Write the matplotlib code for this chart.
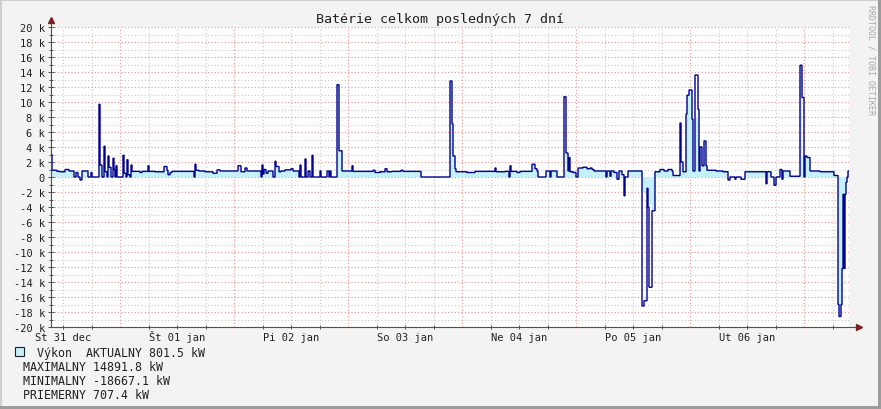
import numpy as np
import matplotlib.pyplot as plt
from matplotlib.patches import Rectangle

W, H = 881, 410
MONO = 'DejaVu Sans Mono'

# rrd samples: 798 consolidated steps over 7 days, start Dec 31 ~09:28
n_samples = 798
t_start = 9.47                 # hours since 31 dec 00:00
t_step = 168 / n_samples

# power (k kW), held from sample index until the next breakpoint
line_idx = [0, 1, 6, 9, 14, 18, 23, 25, 27, 29, 31, 37, 40, 41, 48, 49, 51, 53, 54, 56,
            57, 58, 60, 62, 63, 64, 65, 66, 72, 73, 75, 76, 77, 79, 80, 81, 89, 91, 97, 98,
            104, 113, 116, 117, 119, 121, 143, 144, 145, 148,
            154, 162, 166, 169, 187, 190, 194, 196, 210, 211, 212, 213, 215, 217, 222, 224,
            225, 228, 230, 234, 240, 242, 248, 249, 250, 254, 255, 257, 259, 261, 262, 269,
            270, 276, 278, 279, 280, 286, 288, 291, 301, 302,
            322, 324, 329, 334, 336, 341, 350, 352, 370, 399, 401, 402, 404, 405, 416, 424,
            444, 445, 454, 458, 459, 460, 466, 469, 481, 484, 486, 487, 495, 499, 500, 506,
            513, 515, 517, 518, 519, 522, 525, 527, 532, 536, 539, 541, 543, 555, 556, 559,
            560, 563, 566, 568, 571, 573, 574, 577, 591, 593, 596, 597, 598, 601, 604, 609,
            613, 617, 621, 622, 629, 630, 632, 635, 636, 638, 641, 642, 644, 647, 648, 649,
            651, 653, 655, 656, 665, 672, 677, 679, 684, 685, 690, 694, 715, 716, 720, 723,
            725, 729, 731, 732, 739, 749, 751, 753, 754, 756, 759, 769, 783, 787, 788, 790,
            791, 792, 793, 794, 795, 796, 797]
line_k = [3.0, 0.9, 0.75, 0.7, 1.0, 0.8, 0.0, 0.6, 0.0, -0.4, 0.8, 0.0, 0.6, 0.0, 9.7, 1.6, 0.0, 4.1, 0.7, 0.0,
          2.8, 1.3, 0.0, 2.5, 1.0, 0.0, 1.5, 0.0, 2.9, 0.5, 0.0, 2.3, 0.3, 0.0, 1.6, 0.75, 0.6, 0.75, 1.5, 0.75,
          0.7, 1.4, 0.9, 0.3, 0.6, 0.75, 0.0, 1.7, 0.9, 0.8,
          0.7, 0.5, 0.95, 0.8, 1.5, 0.7, 1.2, 0.8, 0.0, 1.6, 0.4, 1.0, 0.5, 0.8, 0.0, 2.1,
          1.4, 0.7, 0.8, 0.95, 1.1, 0.8, 0.0, 1.6, 0.0, 2.4, 0.0, 0.8, 0.0, 2.9, 0.0, 0.8,
          0.0, 0.8, 0.0, 0.8, 0.0, 12.3, 3.5, 0.8, 1.5, 0.75,
          0.9, 0.6, 0.7, 1.1, 0.7, 0.75, 0.9, 0.75, 0.0, 12.8, 7.1, 2.8, 1.1, 0.7, 0.6, 0.75,
          1.2, 0.7, 0.75, 0.0, 1.5, 0.75, 0.6, 0.75, 1.7, 1.1, 0.8, 0.0, 0.8, 0.0, 0.8, 0.0,
          10.7, 3.2, 0.8, 2.6, 0.7, 0.6, 0.0, 1.2, 1.3, 1.1, 1.2, 1.0, 0.8, 0.0, 0.8, 0.1,
          0.8, 0.6, -0.3, 0.8, 0.3, -2.5, 0.0, 0.8, -17.2, -16.5, -1.5, -4.0, -14.7, -4.5, 0.7, 1.0,
          0.8, 1.0, 0.8, 0.2, 7.2, 2.0, 0.7, 8.4, 10.9, 11.6, 7.7, 0.8, 13.6, 9.0, 0.8, 4.0,
          1.5, 4.8, 1.5, 0.9, 0.8, 0.7, -0.4, 0.0, -0.3, 0.0, -0.3, 0.7, -0.9, 0.7, 0.0, -1.1,
          0.0, 1.0, -0.3, 0.8, 0.1, 14.9, 10.6, 0.0, 2.8, 2.6, 0.8, 0.7, 0.2, -17.0, -18.6, -17.0,
          -12.2, -2.3, -12.2, -2.3, -0.7, 0.0, 0.8]

# where the filled area differs from the outline (start idx, end idx, k kW)
fill_start = [513, 591, 596, 598, 644, 751, 791, 792, 793, 794]
fill_end = [515, 596, 598, 601, 647, 753, 792, 793, 794, 795]
fill_k = [0.8, -2.0, -3.0, -3.7, 8.0, 2.8, -12.0, -8.0, -6.0, -3.5]

day_labels = ['St 31 dec', 'Št 01 jan', 'Pi 02 jan', 'So 03 jan', 'Ne 04 jan', 'Po 05 jan', 'Ut 06 jan']
legend_lines = ['MAXIMALNY 14891.8 kW', 'MINIMALNY -18667.1 kW', 'PRIEMERNY 707.4 kW']

AREA = '#C4F1FB'
LINE = '#00008F'
ARROW = '#7F1F1F'
AXIS = '#505050'
GRID = '#C8C8C8'
MGRID = '#EC9090'
DOTS = dict(ls=(0, (1, 2)), lw=0.8)


def expand(idx, vals, n):
    out = np.zeros(n)
    for i, v in enumerate(vals):
        end = idx[i + 1] if i + 1 < len(idx) else n
        out[idx[i]:end] = v
    return out


line_vals = expand(line_idx, line_k, n_samples) * 1000
fill_vals = line_vals.copy()
for a, b, v in zip(fill_start, fill_end, fill_k):
    fill_vals[a:b] = v * 1000
edges = t_start + np.arange(n_samples + 1) * t_step

fig = plt.figure(figsize=(W / 100, H / 100), dpi=100, facecolor='#F3F3F3')
ax = fig.add_axes([51 / W, 82 / H, 798 / W, 300 / H])
ax.set_facecolor('white')

ax.stairs(fill_vals, edges, baseline=0, fill=True, color=AREA, lw=0, zorder=2)
ax.stairs(line_vals, edges, baseline=None, color=LINE, lw=1.0, zorder=3)

ax.set_xlim(t_start, t_start + 168)
ax.set_ylim(-20000, 20000)

# y grid and labels
yt = np.arange(-20000, 20001, 2000)
ax.set_yticks(yt)
ax.set_yticklabels([f'{v // 1000} k' if v else '0' for v in yt])
ax.set_yticks(np.arange(-19000, 20000, 2000), minor=True)
ax.grid(which='major', axis='y', color=MGRID, zorder=1, **DOTS)
ax.grid(which='minor', axis='y', color=GRID, zorder=1, **DOTS)

# x grid: gray every 6h, red at midnight, labels at noon
ax.xaxis.remove_overlapping_locs = False
noon = [12 + 24 * d for d in range(7)]
ax.set_xticks(noon)
ax.set_xticklabels(day_labels, va='baseline')
ax.set_xticks([h for h in range(12, 178, 6) if h % 24], minor=True)
ax.grid(which='minor', axis='x', color=GRID, zorder=1, **DOTS)
for h in range(24, 178, 24):
    ax.axvline(h, color=MGRID, zorder=1, **DOTS)
ax.set_axisbelow(True)

for s in ax.spines.values():
    s.set_visible(False)
ax.tick_params(axis='y', which='major', length=5, direction='inout', color=AXIS, width=0.7,
               labelsize=7.5, labelcolor='#202020', pad=2)
ax.tick_params(axis='y', which='minor', length=3, direction='inout', color=AXIS, width=0.7)
ax.tick_params(axis='x', which='major', length=0, labelsize=7.5, labelcolor='#202020', pad=9.3)
ax.tick_params(axis='x', which='minor', length=3, direction='inout', color=AXIS, width=0.7)
for lab in ax.get_xticklabels() + ax.get_yticklabels():
    lab.set_family(MONO)

# axes with arrow heads
ax.plot([0, 0], [0, 1.02], transform=ax.transAxes, clip_on=False, color=AXIS, lw=0.8, zorder=4)
ax.plot([0, 1.012], [0, 0], transform=ax.transAxes, clip_on=False, color=AXIS, lw=0.8, zorder=4)
ax.plot([0], [1.024], marker='^', ms=5, color=ARROW, transform=ax.transAxes, clip_on=False, zorder=5)
ax.plot([1.013], [0], marker='>', ms=5, color=ARROW, transform=ax.transAxes, clip_on=False, zorder=5)

fig.text(0.5, 1 - 19 / H, 'Batérie celkom posledných 7 dní', ha='center', va='center',
         family=MONO, fontsize=9.6, color='#202020')
fig.text(871 / W, 1 - 60 / H, 'RRDTOOL / TOBI OETIKER', rotation=270, ha='center', va='center',
         family=MONO, fontsize=6, color='#A8A8A8')

# legend
fig.add_artist(Rectangle((15 / W, 1 - 357 / H), 9 / W, 9 / H, transform=fig.transFigure,
                         facecolor=AREA, edgecolor='#202020', lw=0.8))
fig.text(37 / W, 1 - 354 / H, 'Výkon  AKTUALNY 801.5 kW', ha='left', va='center',
         family=MONO, fontsize=8.4, color='#202020')
for i, s in enumerate(legend_lines):
    fig.text(23 / W, 1 - (367.5 + 14 * i) / H, s, ha='left', va='center',
             family=MONO, fontsize=8.4, color='#202020')

# frame shading
fig.add_artist(Rectangle((0, 1 - 2 / H), 1, 2 / H, transform=fig.transFigure, color='#CFCFCF', lw=0))
fig.add_artist(Rectangle((0, 0), 2 / W, 1, transform=fig.transFigure, color='#CFCFCF', lw=0))
fig.add_artist(Rectangle((1 - 3 / W, 0), 3 / W, 1, transform=fig.transFigure, color='#9C9C9C', lw=0))
fig.add_artist(Rectangle((0, 0), 1, 3 / H, transform=fig.transFigure, color='#9C9C9C', lw=0))

fig.savefig('out.png', dpi=100, facecolor=fig.get_facecolor())
